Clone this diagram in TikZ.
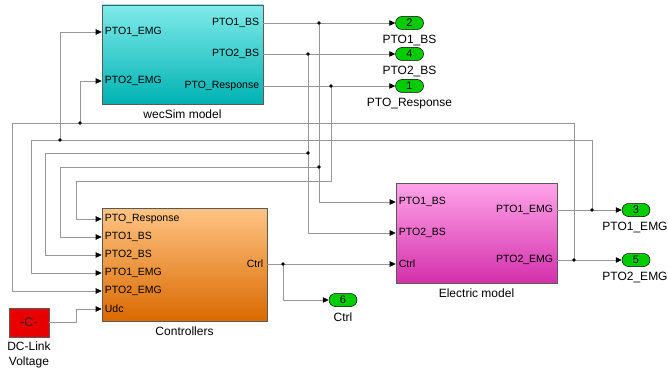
\documentclass[tikz,border=0pt]{standalone}
\usepackage{fontspec}
\setmainfont{Liberation Sans}
\usetikzlibrary{arrows.meta,positioning,shadows}

\definecolor{wecTop}{RGB}{128,234,234}
\definecolor{wecBot}{RGB}{0,178,178}
\definecolor{ctlTop}{RGB}{255,196,132}
\definecolor{ctlBot}{RGB}{218,106,0}
\definecolor{eleTop}{RGB}{255,164,232}
\definecolor{eleBot}{RGB}{212,48,172}
\definecolor{constRed}{RGB}{232,0,0}
\definecolor{outGreen}{RGB}{0,204,0}
\definecolor{wireGray}{RGB}{150,150,150}

\begin{document}
\begin{tikzpicture}[x=1pt,y=-1pt,line cap=round,line join=round]
\tikzset{
    wire/.style={draw=wireGray, line width=0.6pt},
    sig/.style={wire, -{Triangle[length=6pt,width=5.5pt,color=black]}},
    block/.style={draw=black!65, line width=0.6pt,
        drop shadow={shadow xshift=1.2pt, shadow yshift=-1.2pt, opacity=0.35}},
    port/.style={font=\fontsize{10.5}{12}\selectfont, inner sep=0pt},
    caption/.style={font=\fontsize{12}{15}\selectfont, inner sep=0pt, align=center},
    outport/.style={draw=black, fill=outGreen, rounded corners=6.5pt, line width=0.5pt,
        minimum width=28pt, minimum height=13pt, inner sep=0pt,
        font=\fontsize{11}{12}\selectfont},
}
\useasboundingbox[fill=white] (0,0) rectangle (668,377);

% blocks
\node[block, top color=wecTop, bottom color=wecBot, minimum width=161pt, minimum height=99pt] (wecsim) at (182.5,54.5) {};
\node[block, top color=ctlTop, bottom color=ctlBot, minimum width=165pt, minimum height=113pt] (ctl) at (184.5,264.5) {};
\node[block, top color=eleTop, bottom color=eleBot, minimum width=161pt, minimum height=100pt] (ele) at (476.5,233) {};
\node[block, fill=constRed, minimum width=40pt, minimum height=29pt, text=black!85, font=\fontsize{12.5}{13}\selectfont] (dclink) at (29,322.5) {-C-};

\node[caption, below=5pt of wecsim] (wecsim-lbl) {wecSim model};
\node[caption, below=5pt of ctl] (ctl-lbl) {Controllers};
\node[caption, below=5pt of ele] (ele-lbl) {Electric model};
\node[caption, below=4pt of dclink] (dclink-lbl) {DC-Link\\Voltage};

% port positions
\coordinate (wec-i1) at (wecsim.west |- 0,32);
\coordinate (wec-i2) at (wecsim.west |- 0,81);
\coordinate (wec-o1) at (wecsim.east |- 0,23);
\coordinate (wec-o2) at (wecsim.east |- 0,54);
\coordinate (wec-o3) at (wecsim.east |- 0,86);
\coordinate (ctl-i1) at (ctl.west |- 0,219);
\coordinate (ctl-i2) at (ctl.west |- 0,237);
\coordinate (ctl-i3) at (ctl.west |- 0,255);
\coordinate (ctl-i4) at (ctl.west |- 0,273);
\coordinate (ctl-i5) at (ctl.west |- 0,291);
\coordinate (ctl-i6) at (ctl.west |- 0,309);
\coordinate (ctl-o1) at (ctl.east |- 0,264);
\coordinate (ele-i1) at (ele.west |- 0,202);
\coordinate (ele-i2) at (ele.west |- 0,233);
\coordinate (ele-i3) at (ele.west |- 0,264);
\coordinate (ele-o1) at (ele.east |- 0,210);
\coordinate (ele-o2) at (ele.east |- 0,260);

% port names
\node[port, anchor=west] (wec-t1) at ([xshift=3pt]wec-i1) {PTO1\_EMG};
\node[port, anchor=west] (wec-t2) at ([xshift=3pt]wec-i2) {PTO2\_EMG};
\node[port, anchor=east] (wec-t3) at ([xshift=-4pt]wec-o1) {PTO1\_BS};
\node[port, anchor=east] (wec-t4) at ([xshift=-4pt]wec-o2) {PTO2\_BS};
\node[port, anchor=east] (wec-t5) at ([xshift=-4pt]wec-o3) {PTO\_Response};
\node[port, anchor=west] (ctl-t1) at ([xshift=3pt]ctl-i1) {PTO\_Response};
\node[port, anchor=west] (ctl-t2) at ([xshift=3pt]ctl-i2) {PTO1\_BS};
\node[port, anchor=west] (ctl-t3) at ([xshift=3pt]ctl-i3) {PTO2\_BS};
\node[port, anchor=west] (ctl-t4) at ([xshift=3pt]ctl-i4) {PTO1\_EMG};
\node[port, anchor=west] (ctl-t5) at ([xshift=3pt]ctl-i5) {PTO2\_EMG};
\node[port, anchor=west] (ctl-t6) at ([xshift=3pt]ctl-i6) {Udc};
\node[port, anchor=east] (ctl-t7) at ([xshift=-4pt]ctl-o1) {Ctrl};
\node[port, anchor=west] (ele-t1) at ([xshift=3pt]ele-i1) {PTO1\_BS};
\node[port, anchor=west] (ele-t2) at ([xshift=3pt]ele-i2) {PTO2\_BS};
\node[port, anchor=west] (ele-t3) at ([xshift=3pt]ele-i3) {Ctrl};
\node[port, anchor=east] (ele-t4) at ([xshift=-4pt]ele-o1) {PTO1\_EMG};
\node[port, anchor=east] (ele-t5) at ([xshift=-4pt]ele-o2) {PTO2\_EMG};

% outports
\node[outport] (out2) at (409.5,23) {2};
\node[outport] (out4) at (409.5,54) {4};
\node[outport] (out1) at (409.5,86) {1};
\node[outport] (out3) at (636,210) {3};
\node[outport] (out5) at (636,260) {5};
\node[outport] (out6) at (343,300) {6};
\node[caption, below=5.5pt of out2] (out2-lbl) {PTO1\_BS};
\node[caption, below=5.5pt of out4] (out4-lbl) {PTO2\_BS};
\node[caption, below=5.5pt of out1] (out1-lbl) {PTO\_Response};
\node[caption, below=5.5pt of out3, xshift=-1pt] (out3-lbl) {PTO1\_EMG};
\node[caption, below=5.5pt of out5, xshift=-1pt] (out5-lbl) {PTO2\_EMG};
\node[caption, below=5.5pt of out6] (out6-lbl) {Ctrl};

% branch points
\coordinate (j1) at (319,23);
\coordinate (j2) at (308,54);
\coordinate (j3) at (331,86);
\coordinate (j4) at (319,167);
\coordinate (j5) at (308,153);
\coordinate (j6) at (592,210);
\coordinate (j7) at (60,140);
\coordinate (j8) at (574,260);
\coordinate (j9) at (80,123);
\coordinate (j10) at (283,264);

% wecSim outputs
\draw[sig] (wec-o1) -- (out2.west);
\draw[sig] (wec-o2) -- (out4.west);
\draw[sig] (wec-o3) -- (out1.west);
\draw[sig] (j1) |- (ele-i1);
\draw[sig] (j2) |- (ele-i2);
\draw[sig] (j4) -| (j7 |- ctl-i2) -- (ctl-i2);
\draw[sig] (j5) -| (45,255) -- (ctl-i3);
\draw[sig] (j3) |- (76,181) |- (ctl-i1);

% electric model outputs, fed back
\draw[sig] (ele-o1) -- (out3.west);
\draw[sig] (ele-o2) -- (out5.west);
\draw[sig] (j6) |- (31,140) |- (ctl-i4);
\draw[sig] (j7) |- (wec-i1);
\draw[sig] (j8) |- (12,123) |- (ctl-i5);
\draw[sig] (j9) |- (wec-i2);

% controller output and dc-link
\draw[sig] (ctl-o1) -- (ele-i3);
\draw[sig] (j10) |- (out6.west);
\draw[sig] (dclink.east) -| (76,309) -- (ctl-i6);

\foreach \j in {j1,j2,j3,j4,j5,j6,j7,j8,j9,j10}
    \fill (\j) circle (1.9pt);
\end{tikzpicture}
\end{document}
